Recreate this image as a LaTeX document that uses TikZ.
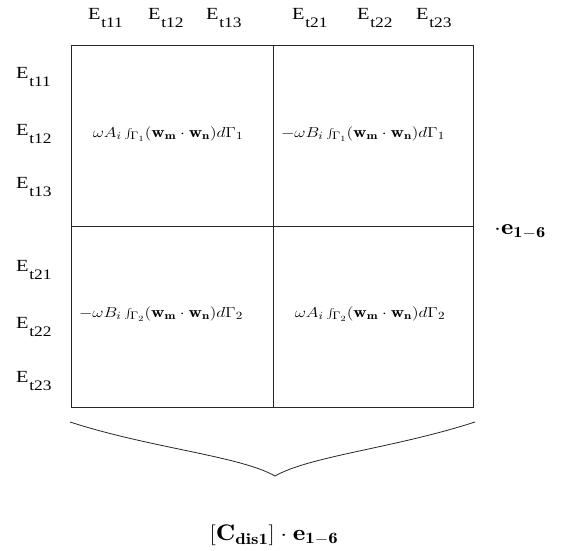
\documentclass[tikz,border=0pt]{standalone}
\usepackage{graphicx}
\usepackage{fontspec}
\newfontfamily\tms{Liberation Serif}
\newcommand\sx[1]{\scalebox{1.2}[1]{#1}}
\newcommand\Et[1]{\sx{\tms\fontsize{17}{20}\selectfont E\kern0.5pt\raisebox{-8pt}{\fontsize{14.5}{17}\selectfont t#1}}}
\begin{document}
\begin{tikzpicture}[x=1pt,y=-1pt,
  gridline/.style={line width=1pt,draw=black!85},
  elab/.style={anchor=base west,inner sep=0pt},
  cellmath/.style={anchor=center,inner sep=0pt,font=\fontsize{15.5}{17}\selectfont},
  bracestyle/.style={line width=0.8pt,draw=black!85}]
\useasboundingbox (0,0) rectangle (566,551);
% grid
\coordinate (tl) at (71,46);
\coordinate (br) at (473,407);
\draw[gridline] (tl) rectangle (br);
\draw[gridline] (273,46) -- (273,407);
\draw[gridline] (71,226) -- (473,226);
% top labels
\node[elab] (c11) at (88,20) {\Et{11}};
\node[elab] (c12) at (148,20) {\Et{12}};
\node[elab] (c13) at (206,20) {\Et{13}};
\node[elab] (c21) at (292,20) {\Et{21}};
\node[elab] (c22) at (357,20) {\Et{22}};
\node[elab] (c23) at (416,20) {\Et{23}};
% left labels
\node[elab] (r11) at (16,79) {\Et{11}};
\node[elab] (r12) at (16,136) {\Et{12}};
\node[elab] (r13) at (16,189) {\Et{13}};
\node[elab] (r21) at (16,271) {\Et{21}};
\node[elab] (r22) at (16,328) {\Et{22}};
\node[elab] (r23) at (16,382) {\Et{23}};
% cell contents
\node[cellmath] (m11) at (168,134) {\sx{$\omega A_i\int_{\Gamma_1}(\mathbf{w_m}\cdot\mathbf{w_n})d\Gamma_1$}};
\node[cellmath] (m12) at (363,134) {\sx{$-\omega B_i\int_{\Gamma_1}(\mathbf{w_m}\cdot\mathbf{w_n})d\Gamma_1$}};
\node[cellmath] (m21) at (161,314) {\sx{$-\omega B_i\int_{\Gamma_2}(\mathbf{w_m}\cdot\mathbf{w_n})d\Gamma_2$}};
\node[cellmath] (m22) at (370,314) {\sx{$\omega A_i\int_{\Gamma_2}(\mathbf{w_m}\cdot\mathbf{w_n})d\Gamma_2$}};
% right label
\node[anchor=center,inner sep=0pt,font=\fontsize{22}{24}\selectfont] (e16) at (520,232) {\sx{$\cdot\mathbf{e_{1-6}}$}};
% brace
\coordinate (bl) at (70,422);
\coordinate (bt) at (275,476);
\coordinate (bra) at (475,422);
\draw[bracestyle] (bl) .. controls (150,448) and (240,456) .. (bt)
  .. controls (310,456) and (395,448) .. (bra);
% bottom label
\node[anchor=center,inner sep=0pt,font=\fontsize{22.5}{24}\selectfont] (res) at (274,535) {\sx{$[\mathbf{C_{dis1}}]\cdot\mathbf{e_{1-6}}$}};
\end{tikzpicture}
\end{document}
